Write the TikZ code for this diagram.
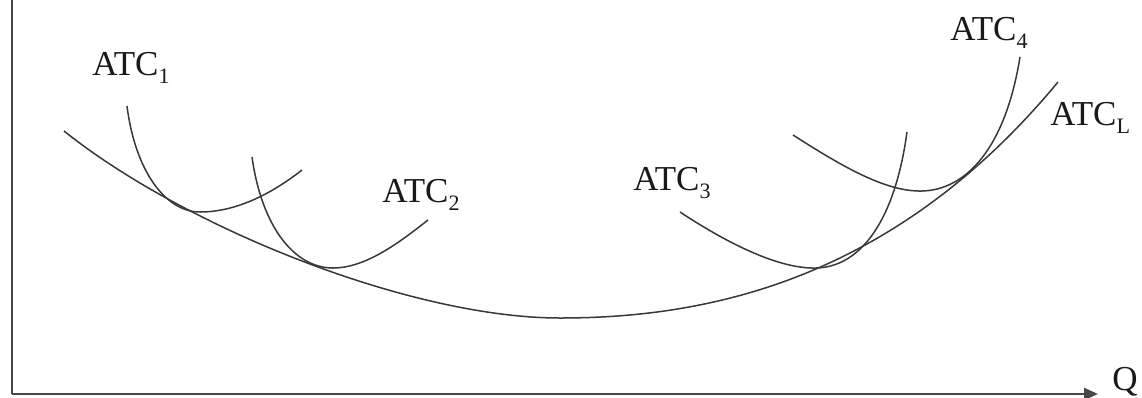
\documentclass[tikz,border=0pt]{standalone}
\usepackage{fontspec}
\setmainfont{Liberation Serif}
\usetikzlibrary{arrows.meta}
\newcommand\mysub[1]{\raisebox{-4pt}{\fontsize{11}{11}\selectfont #1}}
\begin{document}
\begin{tikzpicture}[x=0.5pt,y=-0.5pt,
  curve/.style={draw=black!78,line width=0.75pt},
  axis/.style={draw=black!72,line width=1.2pt},
  lab/.style={anchor=base west,inner sep=0pt,font=\fontsize{17.5}{18}\selectfont,text=black!90}]
\useasboundingbox (0,0) rectangle (1142,397);
% axes
\coordinate (top) at (12,0);
\coordinate (orig) at (12,394);
\coordinate (qend) at (1098,394);
\draw[axis] (top) -- (orig);
\draw[axis,-{Triangle[length=7pt,width=6pt]}] (orig) -- (qend);
\node[lab] (q) at (1112,390) {Q};
% long-run curve
\draw[curve] (64,131) .. controls (184,227) and (410,318) .. (560,318)
                      .. controls (700,318) and (890,285) .. (1058,82);
% short-run curves
\draw[curve] (127,106) .. controls (135,170) and (165,212) .. (200,212)
                       .. controls (235,212) and (270,195) .. (302,170);
\draw[curve] (252,157) .. controls (262,228) and (295,268) .. (333,268)
                       .. controls (366,268) and (400,242) .. (428,220);
\draw[curve] (680,212) .. controls (730,245) and (780,269) .. (816,268)
                       .. controls (861,267) and (895,220) .. (907,132);
\draw[curve] (793,135) .. controls (840,165) and (885,192) .. (922,191)
                       .. controls (965,190) and (1005,150) .. (1020,57);
% labels
\node[lab] (l1) at (92,75) {ATC\mysub{1}};
\node[lab] (l2) at (382,202) {ATC\mysub{2}};
\node[lab] (l3) at (633,190) {ATC\mysub{3}};
\node[lab] (l4) at (950,40) {ATC\mysub{4}};
\node[lab] (lL) at (1050,125) {ATC\mysub{L}};
\end{tikzpicture}
\end{document}
